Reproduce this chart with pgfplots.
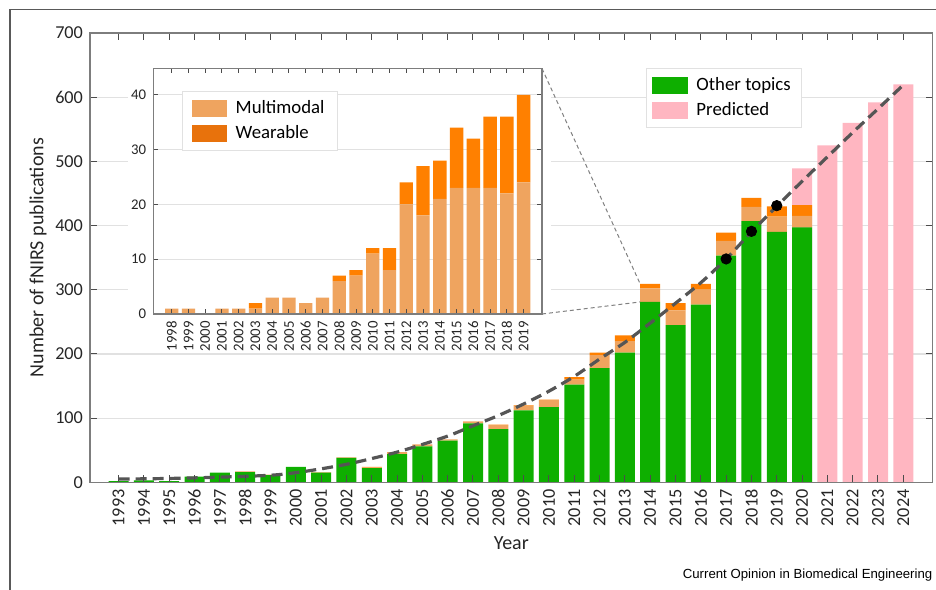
\documentclass[border=0pt]{standalone}
\usepackage{fontspec}
\setmainfont{Carlito}
\newfontfamily\arialf{Liberation Sans}
\usepackage{pgfplots}
\usepackage{pgfplotstable}
\pgfplotsset{compat=1.18}

\definecolor{cgreen}{RGB}{14,175,0}
\definecolor{cmulti}{RGB}{239,164,95}
\definecolor{cwear}{RGB}{255,128,0}
\definecolor{cwearleg}{RGB}{232,114,12}
\definecolor{cpink}{RGB}{255,182,193}
\definecolor{cgrid}{RGB}{225,225,225}
\definecolor{caxis}{RGB}{125,125,125}
\definecolor{ccurve}{RGB}{85,85,85}

\pgfplotstableread{
year other multi wear
1993 2 0 0
1994 3 0 0
1995 2 0 0
1996 9 0 0
1997 15 0 0
1998 16 1 0
1999 11 1 0
2000 24 0 0
2001 15 1 0
2002 38 1 0
2003 22 1 1
2004 44 3 0
2005 56 3 0
2006 65 2 0
2007 92 3 0
2008 83 6 1
2009 112 7 1
2010 117 11 1
2011 152 8 4
2012 178 20 4
2013 202 18 9
2014 281 21 7
2015 245 23 11
2016 277 23 9
2017 353 23 13
2018 407 22 14
2019 390 24 16
2020 397 18 17
}\mainT

\pgfplotstableread{
year val
2020 489
2021 525
2022 560
2023 592
2024 620
}\predT

\pgfplotstableread{
year val
1993 5
1995 6
1997 8
1999 11
2000 15
2001 21
2002 28
2003 37
2004 47
2005 59
2006 72
2007 88
2008 104
2009 122
2010 142
2011 165
2012 192
2013 218
2014 248
2015 279
2016 311
2017 348
2018 390
2019 430
2020 469
2021 507
2022 545
2023 582
2024 619
}\curveT

\newcommand\tickfont{\fontsize{9.1}{10}\selectfont}
\newcommand\insetfont{\fontsize{7.4}{8.5}\selectfont}
\newcommand\legfont{\fontsize{9.4}{11}\selectfont}
\newcommand\labfont{\fontsize{10}{12}\selectfont}

\pgfplotsset{
  mainax/.style={at={(45pt,53.35pt)}, anchor=south west, scale only axis,
    width=421.35pt, height=224.65pt, xmin=1991.87, xmax=2025.16, ymin=0, ymax=700},
  insetax/.style={at={(76.65pt,137.5pt)}, anchor=south west, scale only axis,
    width=194.35pt, height=122.75pt, xmin=1996.9, xmax=2020.1, ymin=0, ymax=44.8},
  legimg/.style={legend image code/.code={\fill[##1, draw=none] (0pt,-4.3pt) rectangle (17.8pt,4.3pt);}},
  legsty/.style={draw=cgrid, fill=white, font=\legfont, inner xsep=3.2pt, inner ysep=2.5pt,
    row sep=0.5pt, /tikz/every odd column/.append style={column sep=2.2pt}},
}

\begin{document}
\begin{tikzpicture}[x=1pt,y=1pt]
\path[use as bounding box] (0,0) rectangle (468,294.5);
\draw[line width=0.65pt, black!65] (5,-2) -- (5,289.85) -- (470,289.85);

% background: grid + predicted
\begin{axis}[mainax, axis line style={draw=none}, major tick length=0pt,
  xtick=\empty, ytick={0,100,...,700}, yticklabels={},
  ymajorgrids, grid style={cgrid, line width=0.6pt}, ybar, bar width=0.79]
\addplot[fill=cpink, draw=none] table[x=year, y=val] {\predT};
\end{axis}

% stacked bars
\begin{axis}[mainax, hide axis, ybar stacked, bar width=0.79]
\addplot[fill=cgreen, draw=none] table[x=year, y=other] {\mainT};
\addplot[fill=cmulti, draw=none] table[x=year, y=multi] {\mainT};
\addplot[fill=cwear, draw=none] table[x=year, y=wear] {\mainT};
\coordinate (c1) at (axis cs:2013.605,309);
\coordinate (c2) at (axis cs:2013.605,281);
\end{axis}

% foreground: curve, dots, axes, legend
\begin{axis}[mainax, axis on top, legimg,
  /pgf/number format/assume math mode=true, /pgf/number format/1000 sep={},
  axis line style={caxis, line width=0.65pt},
  tick align=inside, major tick length=3.6pt, tick style={black!70, line width=0.5pt},
  xtick={1993,...,2024}, ytick={0,100,...,700},
  xticklabel style={rotate=90, anchor=east, font=\tickfont, text=black!85},
  yticklabel style={font=\tickfont, text=black!85},
  xlabel={Year}, ylabel={Number of fNIRS publications},
  label style={font=\labfont, text=black!85},
  xlabel style={at={(axis description cs:0.5,-0.135)}, anchor=center},
  ylabel style={at={(axis description cs:-0.0617,0.5)}, anchor=center},
  legend style={legsty, at={(0.6594,0.9214)}, anchor=north west},
  legend cell align=left]
\addplot[ccurve, line width=1.6pt, dash pattern=on 5.5pt off 3pt, smooth, forget plot]
  table[x=year, y=val] {\curveT};
\addplot[only marks, mark=*, mark size=2.6pt, black, forget plot]
  coordinates {(2017,348) (2018,391) (2019,431)};
\addlegendimage{fill=cgreen}\addlegendentry{Other topics}
\addlegendimage{fill=cpink}\addlegendentry{Predicted}
\end{axis}

% inset background
\fill[white] (64,119) rectangle (275.5,265);

\begin{axis}[insetax, axis line style={draw=none}, major tick length=0pt,
  xtick=\empty, ytick={0,10,...,40}, yticklabels={},
  ymajorgrids, grid style={cgrid, line width=0.6pt}]
\addplot[draw=none, forget plot] coordinates {(2000,0)};
\end{axis}

\begin{axis}[insetax, name=inset, axis on top, ybar stacked, bar width=0.8, legimg,
  /pgf/number format/assume math mode=true, /pgf/number format/1000 sep={},
  axis line style={caxis, line width=0.65pt},
  tick align=inside, major tick length=2.3pt, tick style={black!70, line width=0.5pt},
  xtick={1998,...,2019}, ytick={0,10,...,40},
  xticklabel style={rotate=90, anchor=east, font=\insetfont, text=black!85},
  yticklabel style={font=\insetfont, text=black!85},
  legend style={legsty, at={(0.0746,0.908)}, anchor=north west, inner xsep=4.5pt},
  legend cell align=left]
\addplot[fill=cmulti, draw=none, forget plot, restrict x to domain=1998:2019]
  table[x=year, y=multi] {\mainT};
\addplot[fill=cwear, draw=none, forget plot, restrict x to domain=1998:2019]
  table[x=year, y=wear] {\mainT};
\addlegendimage{fill=cmulti}\addlegendentry{Multimodal}
\addlegendimage{fill=cwearleg}\addlegendentry{Wearable}
\end{axis}

\draw[black!50, line width=0.5pt, dash pattern=on 2pt off 1.5pt] (inset.north east) -- (c1);
\draw[black!50, line width=0.5pt, dash pattern=on 2pt off 1.5pt] (inset.south east) -- (c2);

\node[anchor=base east, inner sep=0pt] at (466.35,5.5)
  {\arialf\fontsize{6.6}{7.8}\selectfont Current Opinion in Biomedical Engineering};
\end{tikzpicture}
\end{document}
